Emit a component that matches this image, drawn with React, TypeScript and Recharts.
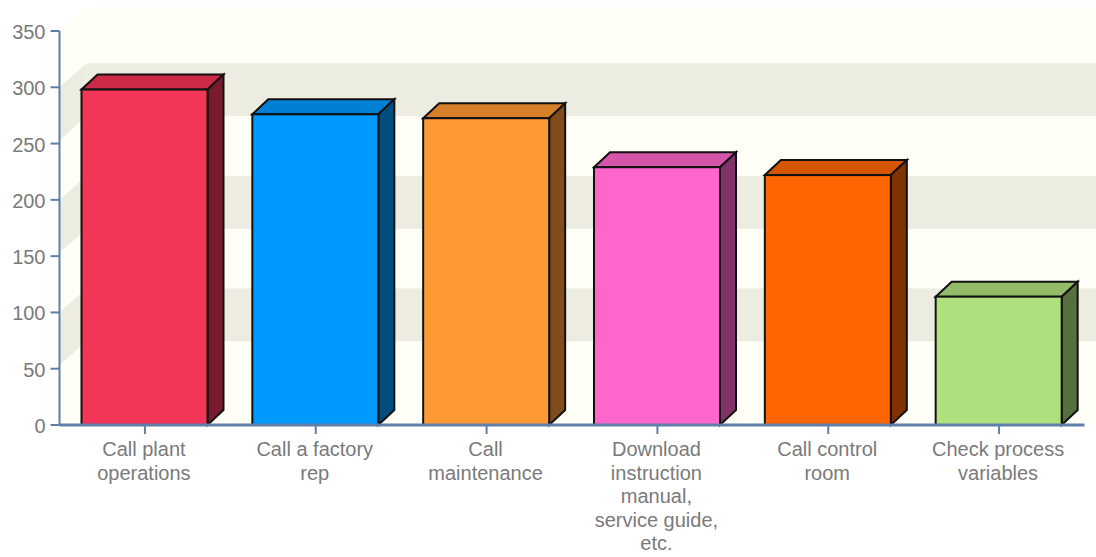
import React from "react";
import { BarChart, Bar, XAxis, YAxis, ReferenceArea } from "recharts";

const categories = [
  ["Call plant", "operations"],
  ["Call a factory", "rep"],
  ["Call", "maintenance"],
  ["Download", "instruction", "manual,", "service guide,", "etc."],
  ["Call control", "room"],
  ["Check process", "variables"],
];
const values = [298, 276, 272.5, 229, 222, 114];
const frontColors = ["#f33558", "#0099ff", "#ff9933", "#ff66cc", "#ff6600", "#b0e07d"];
const topColors = ["#cb2b49", "#0080d5", "#d58029", "#d555aa", "#d55500", "#93bb68"];
const sideColors = ["#7a1b2d", "#004d80", "#804d1a", "#803366", "#803300", "#586f40"];
const yTicks = [0, 50, 100, 150, 200, 250, 300, 350];
const bands = [
  [253, 300],
  [153, 200],
  [53, 100],
];

const table = categories.map((lines, i) => ({
  name: lines.join(" "),
  lines,
  value: values[i],
  front: frontColors[i],
  top: topColors[i],
  side: sideColors[i],
}));

const AXIS = "#5f7fa8";
const TEXT = "#7a7a7a";
const FONT = "'Liberation Sans', sans-serif";
const FONT_SIZE = 20;
const WALL_DX = 27;
const WALL_DY = 24;
const RIGHT_EDGE = 1096;

const Bar3D = (props: any) => {
  const { x, y, width, height, payload } = props;
  const d = 16;
  const e = 15;
  const stroke = { stroke: "#111", strokeWidth: 2, strokeLinejoin: "miter" as const };
  return (
    <g>
      <polygon
        points={`${x},${y} ${x + d},${y - e} ${x + width + d},${y - e} ${x + width},${y}`}
        fill={payload.top}
        {...stroke}
      />
      <polygon
        points={`${x + width},${y} ${x + width + d},${y - e} ${x + width + d},${y + height - e} ${x + width},${y + height}`}
        fill={payload.side}
        {...stroke}
      />
      <rect x={x} y={y} width={width} height={height} fill={payload.front} {...stroke} />
    </g>
  );
};

const Wall = (props: any) => {
  const { x, y, height } = props;
  const b = y + height;
  return (
    <g>
      <polygon
        points={`${x},${y} ${x + WALL_DX},${y - WALL_DY} ${x + WALL_DX},${b - WALL_DY} ${x},${b}`}
        fill="#fffff7"
      />
      <rect x={x + WALL_DX} y={y - WALL_DY} width={RIGHT_EDGE - x - WALL_DX} height={height} fill="#fffff7" />
      <polygon
        points={`${x},${b} ${x + WALL_DX},${b - WALL_DY} ${RIGHT_EDGE},${b - WALL_DY} ${RIGHT_EDGE},${b} `}
        fill="#fffff7"
      />
    </g>
  );
};

const Band = (props: any) => {
  const { x, y, height } = props;
  const b = y + height;
  return (
    <g>
      <polygon
        points={`${x},${y} ${x + WALL_DX},${y - WALL_DY} ${x + WALL_DX},${b - WALL_DY} ${x},${b}`}
        fill="#ecede0"
      />
      <rect x={x + WALL_DX} y={y - WALL_DY} width={RIGHT_EDGE - x - WALL_DX} height={height} fill="#ecede0" />
    </g>
  );
};

const XTick = (props: any) => {
  const { x, y, index } = props;
  const lines = table[index].lines;
  return (
    <text x={x - 1} y={y + 20} textAnchor="middle" fontFamily={FONT} fontSize={FONT_SIZE} fill={TEXT}>
      {lines.map((l: string, i: number) => (
        <tspan key={i} x={x - 1} dy={i === 0 ? 0 : 23.5}>
          {l}
        </tspan>
      ))}
    </text>
  );
};

const YTick = (props: any) => {
  const { x, y, payload } = props;
  return (
    <text x={x} y={y + 8} textAnchor="end" fontFamily={FONT} fontSize={FONT_SIZE} fill={TEXT}>
      {payload.value}
    </text>
  );
};

export default function App() {
  return (
    <div style={{ position: "absolute", left: 0, top: 0, width: 1096, height: 557, background: "#fff" }}>
      <BarChart
        width={1096}
        height={557}
        data={table}
        margin={{ top: 31, right: 11.5, bottom: 0, left: 0 }}
        barSize={126}
      >
        <ReferenceArea y1={0} y2={350} shape={<Wall />} ifOverflow="visible" />
        {bands.map(([a, b]) => (
          <ReferenceArea key={a} y1={a} y2={b} shape={<Band />} ifOverflow="visible" />
        ))}
        <Bar dataKey="value" isAnimationActive={false} shape={<Bar3D />} />
        <XAxis
          dataKey="name"
          interval={0}
          height={132}
          tick={<XTick />}
          tickSize={9}
          axisLine={{ stroke: AXIS, strokeWidth: 3 }}
          tickLine={{ stroke: AXIS, strokeWidth: 2 }}
        />
        <YAxis
          width={59.5}
          domain={[0, 350]}
          ticks={yTicks}
          tickSize={9}
          tickMargin={5}
          axisLine={{ stroke: AXIS, strokeWidth: 2 }}
          tickLine={{ stroke: AXIS, strokeWidth: 2 }}
          tick={<YTick />}
        />
      </BarChart>
    </div>
  );
}
